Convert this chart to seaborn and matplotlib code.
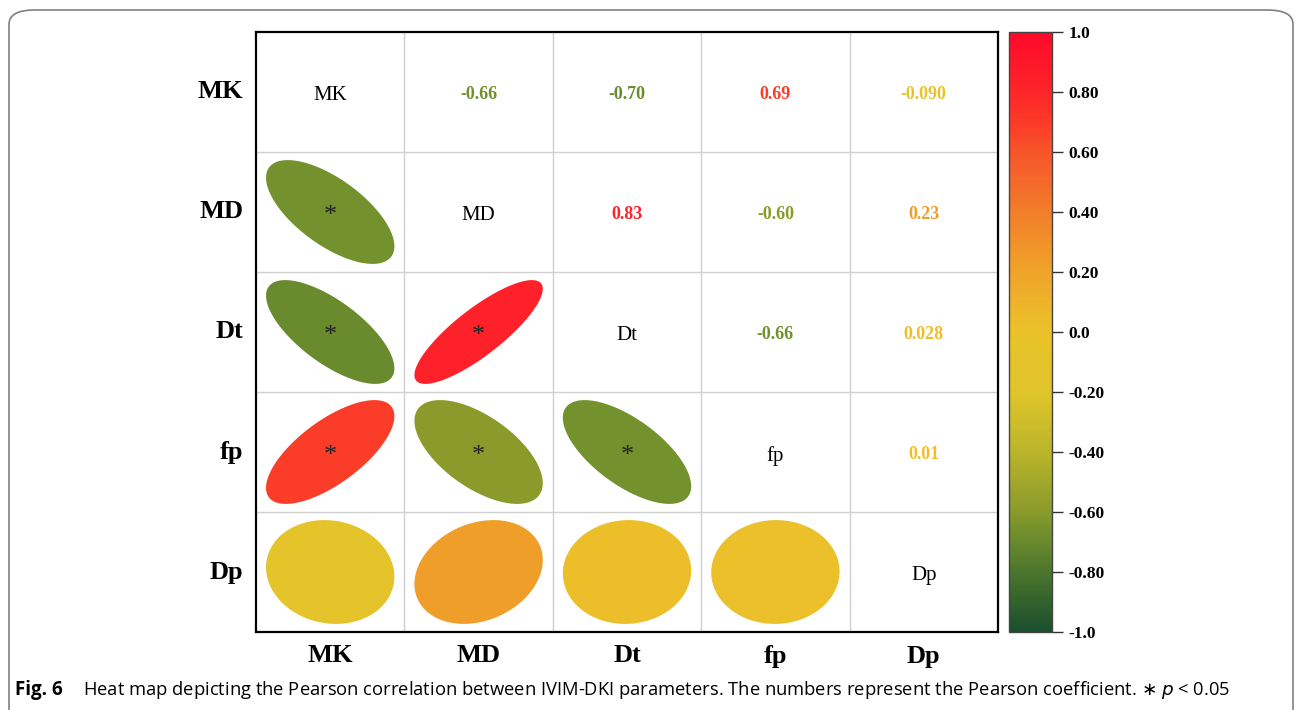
import numpy as np
import pandas as pd
import seaborn as sns
import matplotlib.pyplot as plt
from matplotlib.colors import LinearSegmentedColormap, Normalize
from matplotlib.patches import Polygon, FancyBboxPatch

# parametros IVIM-DKI
params = ["MK", "MD", "Dt", "fp", "Dp"]

# coeficientes de Pearson (linha a linha)
r_mk = [1.0, -0.66, -0.70, 0.69, -0.090]
r_md = [-0.66, 1.0, 0.83, -0.60, 0.23]
r_dt = [-0.70, 0.83, 1.0, -0.66, 0.028]
r_fp = [0.69, -0.60, -0.66, 1.0, 0.01]
r_dp = [-0.090, 0.23, 0.028, 0.01, 1.0]

# texto mostrado no triangulo superior
labels_txt = {(0, 1): "-0.66", (0, 2): "-0.70", (0, 3): "0.69", (0, 4): "-0.090",
              (1, 2): "0.83", (1, 3): "-0.60", (1, 4): "0.23",
              (2, 3): "-0.66", (2, 4): "0.028",
              (3, 4): "0.01"}

# p < 0.05
signif = [(1, 0), (2, 0), (2, 1), (3, 0), (3, 1), (3, 2)]

cbar_ticks = [-1.0, -0.8, -0.6, -0.4, -0.2, 0.0, 0.2, 0.4, 0.6, 0.8, 1.0]
cbar_labels = ["-1.0", "-0.80", "-0.60", "-0.40", "-0.20", "0.0", "0.20", "0.40", "0.60", "0.80", "1.0"]

df = pd.DataFrame([r_mk, r_md, r_dt, r_fp, r_dp], index=params, columns=params)

cmap = LinearSegmentedColormap.from_list("gyr", [
    (0.0, "#1a4f2e"), (0.1, "#4c762d"), (0.15, "#6b8a2e"), (0.17, "#74912c"),
    (0.2, "#8a9b2b"), (0.3, "#bbb52a"), (0.4, "#e0c52a"), (0.5, "#eac22a"),
    (0.515, "#ecbe2a"), (0.6, "#f0a42a"), (0.7, "#f27e2a"), (0.8, "#f7552a"),
    (0.845, "#fb3d28"), (0.9, "#fe2629"), (1.0, "#ff0a2a")])
norm = Normalize(-1, 1)

W, H = 1295, 710
fig = plt.figure(figsize=(W / 100, H / 100), dpi=100)
ax = fig.add_axes([256 / W, 1 - 632 / H, 742 / W, 600 / H])
cax = fig.add_axes([1009 / W, 1 - 632 / H, 43 / W, 600 / H])

mask = np.ones_like(df.values, dtype=bool)
sns.heatmap(df, mask=mask, cmap=cmap, vmin=-1, vmax=1, ax=ax, cbar_ax=cax,
            xticklabels=params, yticklabels=params, linewidths=0)

serif = "Liberation Serif"
n = len(params)

# grelha
for k in range(1, n):
    ax.axhline(k, color="#cfcfcf", lw=1, zorder=1)
    ax.axvline(k, color="#cfcfcf", lw=1, zorder=1)
for s in ax.spines.values():
    s.set_visible(True)
    s.set_color("black")
    s.set_linewidth(1.6)

t = np.linspace(0, 2 * np.pi, 200)
scale = 0.865
for i in range(n):
    for j in range(n):
        r = df.values[i, j]
        if i == j:
            ax.text(j + 0.5, i + 0.53, params[i], ha="center", va="center",
                    fontsize=15, family=serif, color="black")
        elif i < j:
            ax.text(j + 0.5, i + 0.52, labels_txt[(i, j)], ha="center", va="center",
                    fontsize=13, family=serif, fontweight="bold", color=cmap(norm(r)))
        else:
            d = np.arccos(r)
            ex = np.cos(t + d / 2) / 2 * scale
            ey = np.cos(t - d / 2) / 2 * scale
            pts = np.column_stack([j + 0.5 + ex, i + 0.5 - ey])
            ax.add_patch(Polygon(pts, closed=True, facecolor=cmap(norm(r)),
                                 edgecolor="none", zorder=2))
            if (i, j) in signif:
                ax.text(j + 0.5, i + 0.53, "*", ha="center", va="center",
                        fontsize=19, family=serif, color="#222222", zorder=3)

ax.tick_params(length=0, pad=9)
ax.set_xticklabels(params, rotation=0, fontsize=19, family=serif, fontweight="bold")
ax.set_yticklabels(params, rotation=0, fontsize=19, family=serif, fontweight="bold")

cax.set_yticks(cbar_ticks)
cax.set_yticklabels(cbar_labels, fontsize=12.5, family=serif, fontweight="bold")
cax.tick_params(length=8, width=1, color="#333333", pad=4)
cbar = ax.collections[0].colorbar
cbar.outline.set_edgecolor("#444444")
cbar.outline.set_linewidth(1)

# moldura e legenda
fig.patches.append(FancyBboxPatch((9 / W, -0.05), 1284 / W, 1.05 - 10 / H,
                                  boxstyle="round,pad=0,rounding_size=0.02",
                                  transform=fig.transFigure, facecolor="none",
                                  edgecolor="#808080", lw=1.2))

plt.rcParams["mathtext.fontset"] = "dejavusans"
cap_font = ["Open Sans", "DejaVu Sans"]
fig.text(15 / W, 1 - 690 / H, "Fig. 6", ha="left", va="center", fontsize=13.5,
         family=cap_font, fontweight="bold")
fig.text(83 / W, 1 - 690 / H,
         "Heat map depicting the Pearson correlation between IVIM-DKI parameters. "
         "The numbers represent the Pearson coefficient. $\\ast$ $p$ < 0.05",
         ha="left", va="center", fontsize=13.2, family=cap_font)

fig.savefig("out.png", dpi=100)
